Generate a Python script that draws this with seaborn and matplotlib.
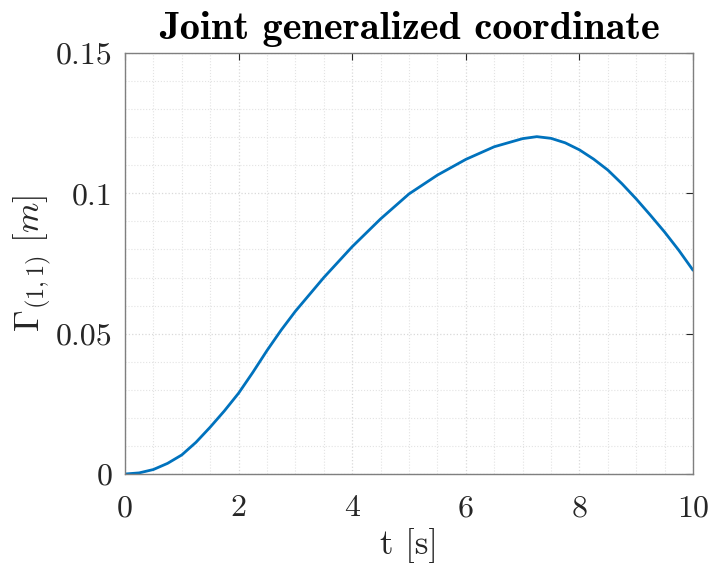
import matplotlib
matplotlib.use("Agg")
import matplotlib.pyplot as plt
import seaborn as sns
import pandas as pd
from matplotlib.ticker import MultipleLocator

t = [0.0, 0.25, 0.5, 0.75, 1.0, 1.25, 1.5, 1.75, 2.0, 2.25, 2.5, 2.75, 3.0, 3.5,
     4.0, 4.5, 5.0, 5.5, 6.0, 6.5, 7.0, 7.25, 7.5, 7.75, 8.0, 8.25, 8.5, 8.75,
     9.0, 9.25, 9.5, 9.75, 10.0]
gamma = [0.0, 0.0004, 0.0016, 0.0038, 0.0068, 0.0113, 0.0167, 0.0225, 0.0288,
         0.0362, 0.0440, 0.0513, 0.0580, 0.0700, 0.0810, 0.0909, 0.0998, 0.1065,
         0.1121, 0.1166, 0.1195, 0.1202, 0.1196, 0.1180, 0.1155, 0.1122, 0.1083,
         0.1034, 0.0980, 0.0922, 0.0862, 0.0797, 0.0726]
x_ticks = [0, 2, 4, 6, 8, 10]
y_ticks = [0, 0.05, 0.1, 0.15]
y_tick_labels = ["0", "0.05", "0.1", "0.15"]

sns.set_theme(style="white")
plt.rcParams["font.family"] = ["cmr10", "DejaVu Serif"]
plt.rcParams["mathtext.fontset"] = "cm"
plt.rcParams["axes.formatter.use_mathtext"] = True
plt.rcParams["axes.unicode_minus"] = False

df = pd.DataFrame({"t": t, "g": gamma})
fig = plt.figure(figsize=(7.13, 5.67), dpi=100)
ax = fig.add_axes([0.1753, 0.164, 0.7967, 0.7425])
sns.lineplot(data=df, x="t", y="g", ax=ax, color="#0072BD", linewidth=2.0)

ax.set_xlim(0, 10)
ax.set_ylim(0, 0.15)
ax.set_xticks(x_ticks)
ax.set_xticklabels([str(v) for v in x_ticks])
ax.set_yticks(y_ticks)
ax.set_yticklabels(y_tick_labels)
ax.xaxis.set_minor_locator(MultipleLocator(0.5))
ax.yaxis.set_minor_locator(MultipleLocator(0.01))
ax.grid(which="major", color="#d9d9d9", linestyle=":", linewidth=0.9)
ax.grid(which="minor", color="#e3e3e3", linestyle=":", linewidth=0.8)
ax.set_axisbelow(True)
ax.tick_params(which="major", direction="in", length=5, width=0.8, color="#262626",
               top=True, right=True, labelsize=23, labelcolor="#262626", pad=9)
ax.tick_params(axis="x", which="major", pad=15)
ax.tick_params(which="minor", length=0, top=True, right=True)
for s in ax.spines.values():
    s.set_visible(True)
    s.set_color("#7f7f7f")
    s.set_linewidth(1.0)

ax.set_xlabel("t [s]", fontsize=25, color="#262626", labelpad=4)
ax.set_ylabel(r"$\Gamma_{(1,1)}\ [m]$", fontsize=25, color="#262626", labelpad=1)
ax.set_title("Joint generalized coordinate", fontfamily="cmb10", fontsize=29,
             color="black", pad=10)

fig.savefig("out.png", dpi=100)
